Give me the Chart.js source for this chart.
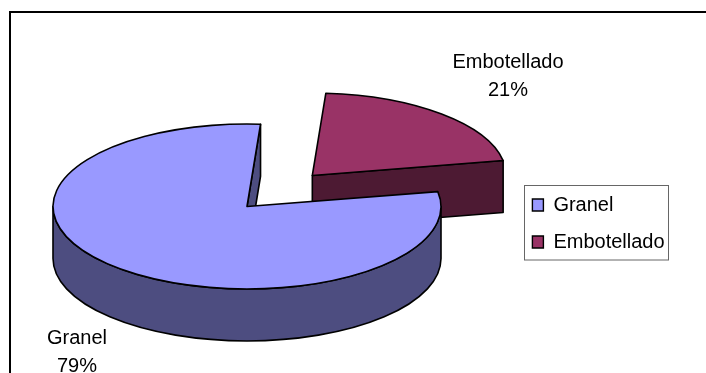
<!DOCTYPE html>
<html>
<head>
<meta charset="utf-8">
<style>
  html, body { margin: 0; padding: 0; background: #fff; }
  canvas { display: block; }
</style>
<script src="https://cdn.jsdelivr.net/npm/chart.js@4"></script>
</head>
<body>
<canvas id="pieChart" width="706" height="373"></canvas>
<script>
const categories = ['Granel', 'Embotellado'];
const shares = [79, 21];

const topColors = ['#9999ff', '#993366'];
const sideColors = ['#4d4d80', '#4d1a33'];

// flattened pie geometry
const centerX = 247;
const centerY = 206.5;
const pieRadius = 194;
const tilt = 0.425;
const depth = 52;
const explode = [0, 98];
const startRotation = 79.6;
const penWidth = 1.6;
const labelFont = '20px "Liberation Sans", Arial, sans-serif';
const labelSpots = [
  { x: 77, y: 343.5 },
  { x: 508, y: 67.5 }
];

function drawSides(ctx, arc, cx, cy, color) {
  const R = arc.outerRadius;
  const s = arc.startAngle;
  const e = arc.endAngle;
  ctx.fillStyle = color;
  ctx.strokeStyle = '#000';
  ctx.lineWidth = penWidth;
  ctx.lineJoin = 'round';

  // cut faces that look towards the viewer
  const faces = [];
  if (-Math.cos(s) > 0) faces.push(s);
  if (Math.cos(e) > 0) faces.push(e);
  faces.forEach(a => {
    const px = cx + Math.cos(a) * R;
    const py = cy + Math.sin(a) * R * tilt;
    ctx.beginPath();
    ctx.moveTo(cx, cy);
    ctx.lineTo(px, py);
    ctx.lineTo(px, py + depth);
    ctx.lineTo(cx, cy + depth);
    ctx.closePath();
    ctx.fill();
    ctx.stroke();
  });

  // outer rim, only the front half of the ellipse shows
  [[0, Math.PI], [2 * Math.PI, 3 * Math.PI]].forEach(([lo, hi]) => {
    const a0 = Math.max(s, lo);
    const a1 = Math.min(e, hi);
    if (a1 <= a0) return;
    ctx.beginPath();
    ctx.ellipse(cx, cy, R, R * tilt, 0, a0, a1);
    ctx.ellipse(cx, cy + depth, R, R * tilt, 0, a1, a0, true);
    ctx.closePath();
    ctx.fill();
    ctx.stroke();
  });
}

const pie3d = {
  id: 'pie3d',
  beforeDraw(chart) {
    const ctx = chart.ctx;
    ctx.save();
    ctx.fillStyle = '#fff';
    ctx.fillRect(0, 0, chart.width, chart.height);
    // frame, right and bottom fall outside the crop
    ctx.strokeStyle = '#000';
    ctx.lineWidth = 2;
    ctx.beginPath();
    ctx.moveTo(10, chart.height);
    ctx.lineTo(10, 12);
    ctx.lineTo(chart.width, 12);
    ctx.stroke();
    // legend box
    ctx.strokeStyle = '#666';
    ctx.lineWidth = 1;
    ctx.strokeRect(524.5, 185.5, 144, 74.5);
    ctx.restore();
  },
  afterLayout(chart) {
    const legend = chart.legend;
    const w = legend.width;
    const h = legend.height;
    legend.left = 532.4 - legend.options.labels.padding;
    legend.top = 195 - legend.options.labels.padding;
    legend.right = legend.left + w;
    legend.bottom = legend.top + h;
  },
  beforeDatasetDraw(chart, args) {
    const ctx = chart.ctx;
    const arcs = args.meta.data;
    // back slice first so the big one covers it
    [1, 0].forEach(i => {
      const arc = arcs[i];
      const mid = (arc.startAngle + arc.endAngle) / 2;
      const cx = centerX + Math.cos(mid) * explode[i];
      const cy = centerY + Math.sin(mid) * explode[i] * tilt;
      ctx.save();
      drawSides(ctx, arc, cx, cy, sideColors[i]);
      ctx.restore();

      ctx.save();
      ctx.translate(cx, cy);
      ctx.scale(1, tilt);
      ctx.translate(-arc.x, -arc.y);
      arc.draw(ctx);
      ctx.restore();

      // outline after the squash so the pen stays even
      ctx.save();
      ctx.strokeStyle = '#000';
      ctx.lineWidth = penWidth;
      ctx.lineJoin = 'round';
      ctx.beginPath();
      ctx.moveTo(cx, cy);
      ctx.ellipse(cx, cy, arc.outerRadius, arc.outerRadius * tilt, 0, arc.startAngle, arc.endAngle);
      ctx.closePath();
      ctx.stroke();
      ctx.restore();
    });
    return false;
  },
  afterDraw(chart) {
    const ctx = chart.ctx;
    ctx.save();
    ctx.fillStyle = '#000';
    ctx.font = labelFont;
    ctx.textAlign = 'center';
    ctx.textBaseline = 'alphabetic';
    categories.forEach((name, i) => {
      ctx.fillText(name, labelSpots[i].x, labelSpots[i].y);
      ctx.fillText(shares[i] + '%', labelSpots[i].x, labelSpots[i].y + 28.8);
    });
    ctx.restore();
  }
};

new Chart(document.getElementById('pieChart'), {
  type: 'pie',
  data: {
    labels: categories,
    datasets: [{
      data: shares,
      backgroundColor: topColors,
      borderWidth: 0,
      radius: pieRadius
    }]
  },
  options: {
    responsive: false,
    animation: false,
    rotation: startRotation,
    plugins: {
      tooltip: { enabled: false },
      legend: {
        position: 'right',
        align: 'start',
        labels: {
          color: '#000',
          font: { size: 20, family: '"Liberation Sans", Arial, sans-serif' },
          boxWidth: 11,
          boxHeight: 12,
          padding: 17,
          generateLabels(chart) {
            return Chart.overrides.pie.plugins.legend.labels.generateLabels(chart).map(item => {
              item.lineWidth = 1.4;
              item.strokeStyle = '#000';
              return item;
            });
          }
        }
      }
    }
  },
  plugins: [pie3d]
});
</script>
</body>
</html>
